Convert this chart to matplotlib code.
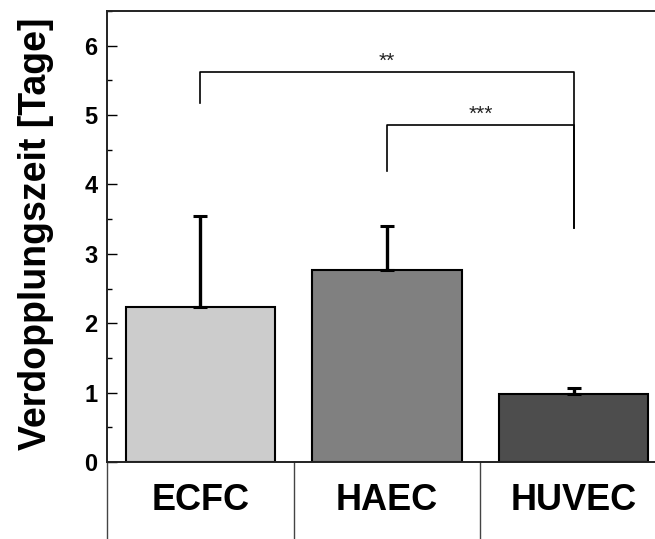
import numpy as np
import matplotlib
matplotlib.use('Agg')
import matplotlib.pyplot as plt
import matplotlib.transforms as mtransforms

plt.rcParams['font.family'] = ['Liberation Sans', 'DejaVu Sans']

# data
cells = ['ECFC', 'HAEC', 'HUVEC']
doubling_time = [2.23, 2.77, 0.98]
sd_up = [1.31, 0.63, 0.08]
bar_colors = ['#cccccc', '#808080', '#4d4d4d']
# significance brackets: left bar, right bar, bracket height, end of left leg, end of right leg, label
brackets = [(1, 3, 5.62, 5.17, 3.37, '**'),
            (2, 3, 4.86, 4.20, 3.37, '***')]

fig = plt.figure(facecolor='white', figsize=[6.55, 5.39], dpi=100)
ax = fig.add_axes([0.1634, 0.1429, 0.855, 0.8367])

x = np.arange(1, len(cells)+1)
ax.bar(x, doubling_time, width=0.8, color=bar_colors, edgecolor='k', linewidth=1.5, zorder=2)
ax.errorbar(x, doubling_time, yerr=[np.zeros(len(x)), sd_up], fmt='none', ecolor='k',
            elinewidth=2.4, capsize=4.7, capthick=2.2, zorder=3)

for x1, x2, ytop, yl, yr, lab in brackets:
	ax.plot([x1, x1, x2, x2], [yl, ytop, ytop, yr], '-', color='k', linewidth=1.2, zorder=4)
	ax.text((x1+x2)/2.0, ytop+0.07, lab, ha='center', va='baseline', fontsize=15, color='#222222')

ax.set_xlim([0.5, 3.5]); ax.set_ylim([0, 6.5])
ax.set_yticks(np.arange(0, 7, 1)); ax.set_yticks(np.arange(0, 6.6, 0.5), minor=True)
ax.set_xticks([])
ax.tick_params(axis='y', which='major', direction='in', length=7, width=1, pad=7, labelsize=17)
ax.tick_params(axis='y', which='minor', direction='in', length=3.5, width=1)
for t in ax.get_yticklabels():
	t.set_fontweight('bold')
for s in ax.spines.values():
	s.set_linewidth(1.4); s.set_color('#222222')

ax.set_ylabel('Verdopplungszeit [Tage]', fontsize=27, fontweight='bold')
ax.yaxis.set_label_coords(-0.095, 0.507)

# table-like category labels below the axis
trans = mtransforms.blended_transform_factory(ax.transData, ax.transAxes)
for xs in [0.5, 1.5, 2.5]:
	ax.plot([xs, xs], [0, -0.25], '-', color='#444444', linewidth=1.0, transform=trans, clip_on=False)
for i, c in enumerate(cells):
	ax.text(x[i], -0.085, c, ha='center', va='center', fontsize=26, fontweight='bold', transform=trans)

plt.savefig('out.png', format='png', dpi=100)
